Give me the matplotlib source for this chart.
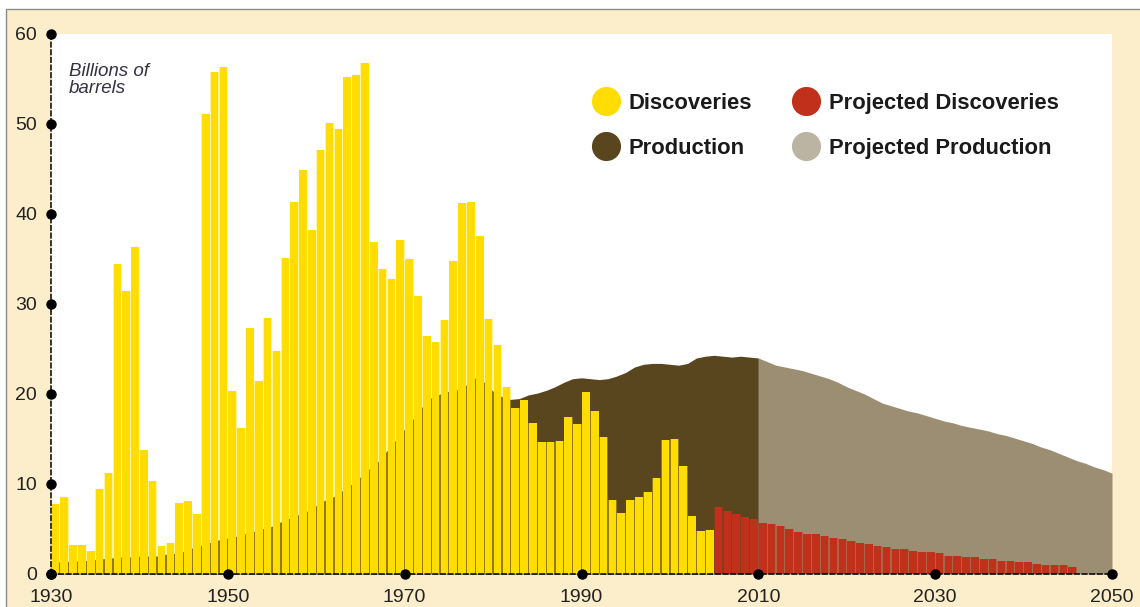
import numpy as np
import matplotlib
matplotlib.use('Agg')
import matplotlib.pyplot as plt
from matplotlib.patches import Rectangle

# Discoveries (billions of barrels), one bar per year
disc_years = list(range(1930, 2005))
discoveries = [7.8, 8.6, 3.2, 3.2, 2.6, 9.4, 11.2, 34.4, 31.5, 36.3,
               13.8, 10.3, 3.1, 3.5, 7.9, 8.1, 6.7, 51.1, 55.8, 56.3,
               20.3, 16.2, 27.3, 21.4, 28.4, 24.8, 35.1, 41.3, 44.9, 38.2,
               47.1, 50.1, 49.4, 55.2, 55.5, 56.8, 36.9, 33.9, 32.8, 37.1,
               35.0, 30.9, 26.4, 25.8, 28.2, 34.8, 41.2, 41.3, 37.6, 28.3,
               25.4, 20.8, 18.5, 19.3, 16.8, 14.7, 14.7, 14.8, 17.4, 16.7,
               20.2, 18.1, 15.2, 8.2, 6.8, 8.2, 8.6, 9.1, 10.7, 14.9,
               15.0, 12.0, 6.4, 4.8, 4.9]

# Projected discoveries
proj_disc_years = list(range(2005, 2046))
proj_discoveries = [7.4, 7.0, 6.7, 6.3, 6.1, 5.7, 5.6, 5.3, 5.0, 4.7,
                    4.5, 4.4, 4.2, 4.0, 3.85, 3.7, 3.5, 3.3, 3.15, 3.0,
                    2.75, 2.75, 2.6, 2.45, 2.45, 2.3, 2.0, 2.0, 1.85, 1.85,
                    1.7, 1.7, 1.45, 1.45, 1.3, 1.3, 1.15, 1.0, 1.0, 1.0, 0.75]

# Production
prod_years = list(range(1930, 2011))
production = [1.3, 1.35, 1.4, 1.45, 1.5, 1.6, 1.7, 1.8, 1.9, 1.9,
              2.0, 2.0, 2.0, 2.2, 2.3, 2.5, 2.9, 3.2, 3.5, 3.8,
              4.0, 4.2, 4.5, 4.75, 5.05, 5.3, 5.8, 6.2, 6.6, 7.0,
              7.6, 8.2, 8.6, 9.3, 10.0, 10.8, 11.7, 12.5, 13.7, 14.9,
              16.1, 17.3, 18.6, 19.6, 20.0, 20.3, 20.5, 21.0, 21.8, 21.3,
              20.3, 19.7, 19.4, 19.5, 19.9, 20.1, 20.4, 20.8, 21.3, 21.7,
              21.8, 21.7, 21.6, 21.7, 22.0, 22.4, 23.0, 23.3, 23.4, 23.4,
              23.3, 23.2, 23.4, 24.0, 24.2, 24.3, 24.2, 24.1, 24.2, 24.1,
              24.0]

# Projected production
proj_prod_years = list(range(2010, 2051))
proj_production = [24.0, 23.6, 23.2, 23.0, 22.8, 22.6, 22.3, 22.0, 21.7, 21.3,
                   20.8, 20.4, 20.0, 19.5, 19.0, 18.7, 18.4, 18.1, 17.9, 17.6,
                   17.3, 17.0, 16.8, 16.5, 16.3, 16.1, 15.9, 15.6, 15.4, 15.1,
                   14.8, 14.5, 14.1, 13.8, 13.4, 13.0, 12.6, 12.3, 11.9, 11.6,
                   11.2]

x_ticks = [1930, 1950, 1970, 1990, 2010, 2030, 2050]
y_ticks = [0, 10, 20, 30, 40, 50, 60]

legend_labels = ['Discoveries', 'Production', 'Projected Discoveries', 'Projected Production']

YELLOW = '#FFDD00'
RED = '#C0301A'
BROWN = '#5A461E'
GREY = '#9B8E72'
GREY_LEGEND = '#BCB4A2'
CREAM = '#FDEECB'


def main():
    fig = plt.figure(figsize=(11.4, 6.07), dpi=100)
    fig.patch.set_facecolor('white')
    fig.patches.append(Rectangle((6 / 1140, -0.05), 1.1, 1 - 9 / 607 + 0.05,
                                 transform=fig.transFigure, facecolor=CREAM,
                                 edgecolor='#8a8a8a', linewidth=1.0, zorder=-10))

    ax = fig.add_axes([51 / 1140, 33 / 607, 1061 / 1140, 540 / 607])
    ax.set_zorder(1)
    ax.set_facecolor('white')

    # production areas
    ax.fill_between(prod_years, production, color=BROWN, linewidth=0, zorder=1)
    ax.fill_between(proj_prod_years, proj_production, color=GREY, linewidth=0, zorder=1)

    # bars: a faint full-width layer shows in the gaps, solid bar on top
    dx = np.array(disc_years)
    ax.bar(dx, discoveries, width=1.0, align='edge', color=YELLOW, alpha=0.35,
           linewidth=0, zorder=2)
    ax.bar(dx + 0.07, discoveries, width=0.86, align='edge', color=YELLOW,
           linewidth=0, zorder=3)
    px = np.array(proj_disc_years)
    ax.bar(px, proj_discoveries, width=1.0, align='edge', color=RED, alpha=0.45,
           linewidth=0, zorder=2)
    ax.bar(px + 0.07, proj_discoveries, width=0.86, align='edge', color=RED,
           linewidth=0, zorder=3)

    ax.set_xlim(1930, 2050)
    ax.set_ylim(0, 60)

    for s in ['top', 'right']:
        ax.spines[s].set_visible(False)
    for s in ['left', 'bottom']:
        ax.spines[s].set_linestyle((0, (3, 2)))
        ax.spines[s].set_linewidth(1.1)
        ax.spines[s].set_color('black')
        ax.spines[s].set_zorder(5)

    ax.plot([1930] * len(y_ticks), y_ticks, 'o', color='black', ms=6.5,
            clip_on=False, zorder=6)
    ax.plot(x_ticks, [0] * len(x_ticks), 'o', color='black', ms=6.5,
            clip_on=False, zorder=6)

    ax.set_xticks(x_ticks)
    ax.set_yticks(y_ticks)
    ax.tick_params(length=0, labelsize=14, colors='#222222')
    ax.tick_params(axis='y', pad=10)
    ax.tick_params(axis='x', pad=11)
    for lab in ax.get_xticklabels() + ax.get_yticklabels():
        lab.set_family('Liberation Sans')

    ax.text(0.017, 0.946, 'Billions of\nbarrels', transform=ax.transAxes,
            ha='left', va='top', fontsize=13.5, style='italic',
            family='Liberation Sans', color='#333344', linespacing=1.0)

    # legend
    colors = [YELLOW, BROWN, RED, GREY_LEGEND]
    cx = [0.523, 0.523, 0.7116, 0.7116]
    cy = [0.876, 0.7926, 0.876, 0.7926]
    for i in range(4):
        ax.scatter(cx[i], cy[i], s=440, color=colors[i], transform=ax.transAxes,
                   zorder=7, linewidths=0)
        ax.text(cx[i] + 0.0215, cy[i] - 0.004, legend_labels[i], transform=ax.transAxes,
                ha='left', va='center', fontsize=15.8, fontweight='bold',
                family='Liberation Sans', color='#1a1a1a', zorder=7)

    fig.savefig('out.png', dpi=100, facecolor=fig.get_facecolor())


if __name__ == '__main__':
    main()
